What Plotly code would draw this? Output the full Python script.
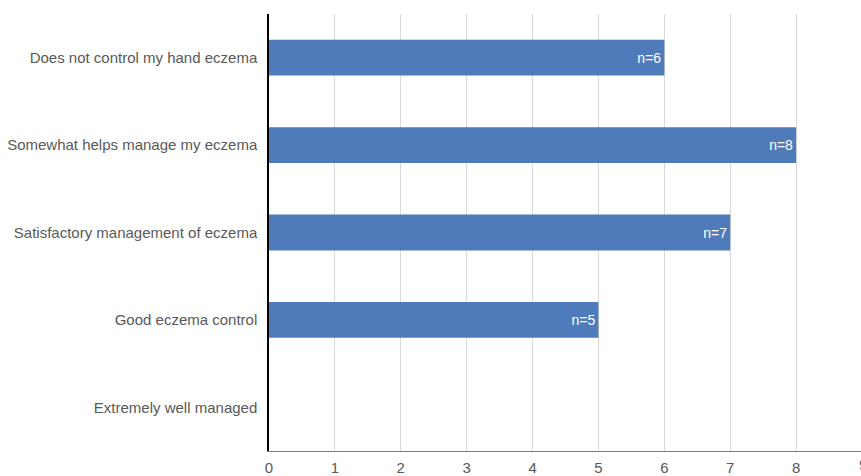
import plotly.graph_objects as go

categories = [
    "Does not control my hand eczema",
    "Somewhat helps manage my eczema",
    "Satisfactory management of eczema",
    "Good eczema control",
    "Extremely well managed",
]
values = [6, 8, 7, 5, 0]
bar_labels = ["n=6", "n=8", "n=7", "n=5", ""]
x_ticks = [0, 1, 2, 3, 4, 5, 6, 7, 8, 9]

FONT = "Liberation Sans, Arial"
TXT = "#595959"

fig = go.Figure(
    go.Bar(
        x=values,
        y=categories,
        orientation="h",
        marker=dict(color="#4F7BBA", line=dict(width=0)),
        width=0.41,
        text=bar_labels,
        textposition="inside",
        insidetextanchor="end",
        textfont=dict(color="white", size=14, family=FONT),
        cliponaxis=False,
    )
)

fig.update_layout(
    width=861,
    height=476,
    margin=dict(l=269, r=0, t=14, b=21),
    plot_bgcolor="white",
    paper_bgcolor="white",
    showlegend=False,
    font=dict(family=FONT, size=15, color=TXT),
)

fig.update_xaxes(
    range=[0, 8.985],
    tickvals=x_ticks,
    ticktext=[str(v) for v in x_ticks],
    showgrid=True,
    gridcolor="#D9D9D9",
    gridwidth=1,
    showline=True,
    linecolor="#7F7F7F",
    linewidth=1,
    ticks="outside",
    ticklen=3,
    tickcolor="rgba(0,0,0,0)",
    tickfont=dict(size=15, color=TXT, family=FONT),
    zeroline=False,
    fixedrange=True,
)

fig.update_yaxes(
    categoryorder="array",
    categoryarray=categories[::-1],
    showline=True,
    linecolor="#000000",
    linewidth=1.5,
    showgrid=False,
    ticks="outside",
    ticklen=7,
    tickcolor="rgba(0,0,0,0)",
    tickfont=dict(size=15, color=TXT, family=FONT),
    fixedrange=True,
)

# "9" tick label that sits just past the right edge of the visible area
fig.add_annotation(
    x=1.0,
    xref="paper",
    xanchor="left",
    xshift=-4,
    y=0,
    yref="paper",
    yanchor="top",
    yshift=-3,
    text=str(x_ticks[-1]),
    showarrow=False,
    font=dict(size=15, color=TXT, family=FONT),
)

fig.write_html("out.html")
